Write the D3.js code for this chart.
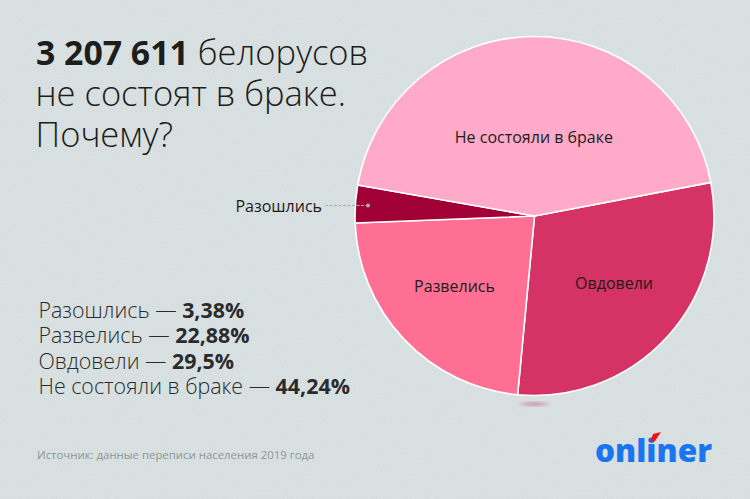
<!DOCTYPE html>
<html>
<head>
<meta charset="utf-8">
<script src="https://d3js.org/d3.v7.min.js"></script>
<style>
  html, body { margin: 0; padding: 0; background: #d9e1e2; }
  text { font-family: "Open Sans", sans-serif; }
</style>
</head>
<body>
<svg id="chart" width="750" height="499"></svg>
<script>
// chart values, in the order they go round the pie
const categories = ["Овдовели", "Развелись", "Разошлись", "Не состояли в браке"];
const shares = [29.5, 22.88, 3.38, 44.24];
const colors = ["#d53365", "#ff6f93", "#a00035", "#ffaac8"];

// the list on the left has its own order
const legendNames = ["Разошлись", "Развелись", "Овдовели", "Не состояли в браке"];
const legendValues = ["3,38%", "22,88%", "29,5%", "44,24%"];

const svg = d3.select("#chart");
const defs = svg.append("defs");

// grainy paper background
const grain = defs.append("filter").attr("id", "grain")
  .attr("x", 0).attr("y", 0).attr("width", "100%").attr("height", "100%");
grain.append("feTurbulence").attr("type", "fractalNoise")
  .attr("baseFrequency", 0.8).attr("numOctaves", 2).attr("seed", 4);
grain.append("feColorMatrix").attr("values", "0 0 0 0 0.45  0 0 0 0 0.5  0 0 0 0 0.5  0 0 0 0.22 0");

defs.append("filter").attr("id", "blur").append("feGaussianBlur").attr("stdDeviation", "5 1.6");

svg.append("rect").attr("width", 750).attr("height", 499).attr("fill", "#dce4e5");
svg.append("rect").attr("width", 750).attr("height", 499).attr("filter", "url(#grain)");

// pie
const cx = 534.5, cy = 216, radius = 179.5;
const pie = d3.pie().sort(null)
  .startAngle(79.2 * Math.PI / 180)
  .endAngle(439.2 * Math.PI / 180);
const arc = d3.arc().innerRadius(0).outerRadius(radius);
const arcs = pie(shares);

svg.append("ellipse")
  .attr("cx", 534).attr("cy", 404).attr("rx", 13).attr("ry", 2.2)
  .attr("fill", "#c05a80").attr("opacity", 0.5).attr("filter", "url(#blur)");

const g = svg.append("g").attr("transform", `translate(${cx},${cy})`);
g.selectAll("path").data(arcs).enter().append("path")
  .attr("d", arc)
  .attr("fill", (d, i) => colors[i])
  .attr("stroke", "#fff")
  .attr("stroke-width", 1.6)
  .attr("stroke-linejoin", "round");

// slice labels: radius from the centre, and a small turn off the slice's middle (degrees)
const labelR = [104, 106.3, 0, 79];
const labelTurn = [-2.2, 2.2, 0, 0];
[0, 1, 3].forEach(i => {
  const mid = (arcs[i].startAngle + arcs[i].endAngle) / 2 + labelTurn[i] * Math.PI / 180;
  const x = Math.sin(mid) * labelR[i];
  const y = -Math.cos(mid) * labelR[i];
  g.append("text")
    .attr("x", x).attr("y", y).attr("dy", "0.35em")
    .attr("text-anchor", "middle")
    .attr("font-size", 16)
    .attr("fill", "#1d1d1b")
    .text(categories[i]);
});

// callout for the thin slice
svg.append("text")
  .attr("x", 322).attr("y", 212)
  .attr("text-anchor", "end")
  .attr("font-size", 16)
  .attr("fill", "#1d1d1b")
  .text(categories[2]);
svg.append("line")
  .attr("x1", 325).attr("y1", 205.5).attr("x2", 368).attr("y2", 205.5)
  .attr("stroke", "#a9adae").attr("stroke-width", 1).attr("stroke-dasharray", "3 1.5");
svg.append("circle").attr("cx", 368).attr("cy", 205.5).attr("r", 2).attr("fill", "#a9adae");

// title
const title = svg.append("g").attr("fill", "#1d1d1b").attr("font-size", 34.5);
const line1 = title.append("text").attr("x", 36).attr("y", 64.5);
line1.append("tspan").attr("font-weight", 700).attr("font-size", 33.8).text("3 207 611");
line1.append("tspan").attr("font-weight", 300).text(" белорусов");
title.append("text").attr("x", 35.5).attr("y", 105.5).attr("font-weight", 300).text("не состоят в браке.");
title.append("text").attr("x", 35.5).attr("y", 147).attr("font-weight", 300).text("Почему?");

// list of shares
legendNames.forEach((name, i) => {
  const t = svg.append("text")
    .attr("x", 38.5).attr("y", 317.5 + i * 25.6)
    .attr("font-size", 21.4)
    .attr("fill", "#2b2b2b");
  t.append("tspan").attr("font-weight", 300).text(name + " — ");
  t.append("tspan").attr("font-weight", 700).text(legendValues[i]);
});

// source
svg.append("text")
  .attr("x", 37).attr("y", 459)
  .attr("font-size", 11.4)
  .attr("fill", "#8f9596")
  .text("Источник: данные переписи населения 2019 года");

// logo
svg.append("text")
  .attr("x", 595).attr("y", 461.5)
  .attr("font-family", "Lato, sans-serif")
  .attr("font-weight", 900)
  .attr("font-size", 31.5)
  .attr("fill", "#1a75f0")
  .text("onliner");
svg.append("path").attr("d", "M650 442 L653 434 L661 432 L655 441 Z").attr("fill", "#f01414");
</script>
</body>
</html>
